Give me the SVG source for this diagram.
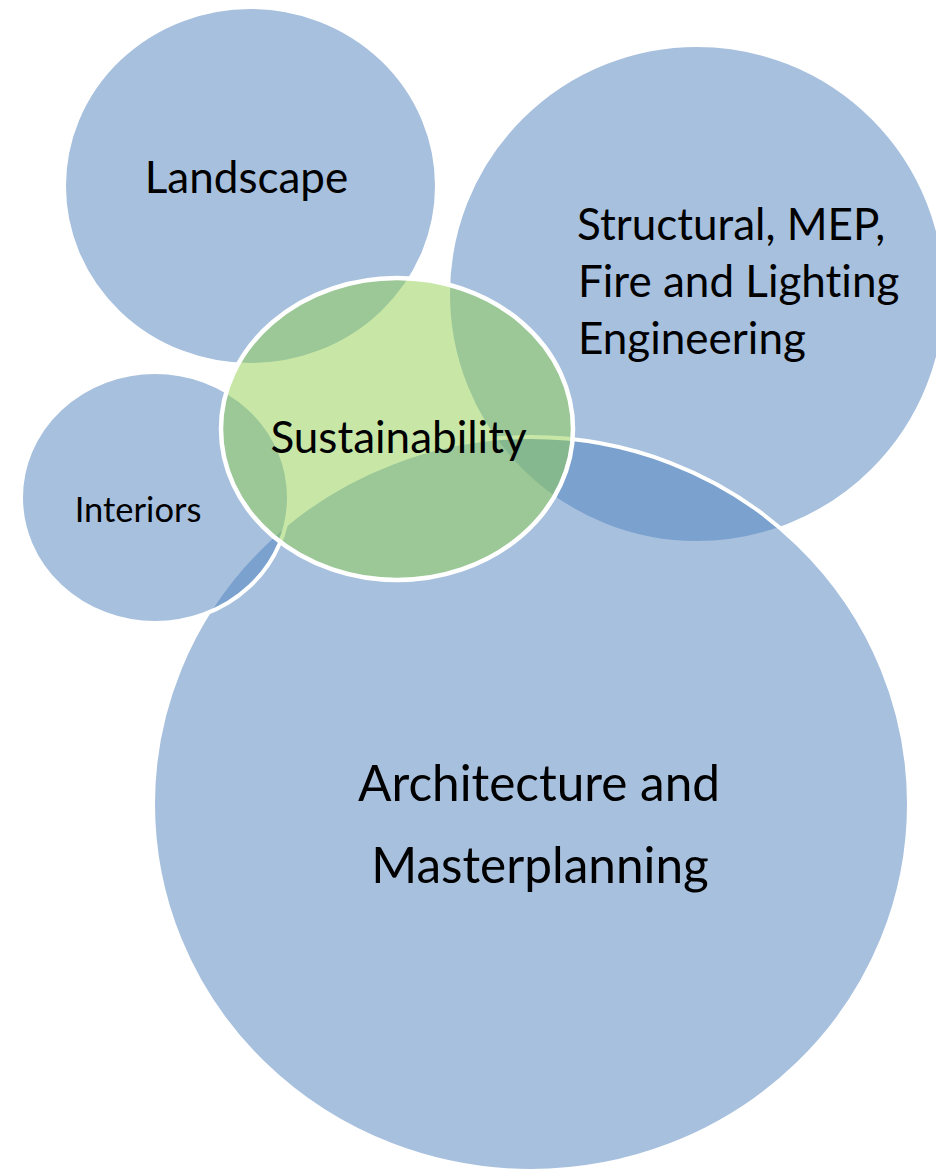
<svg xmlns="http://www.w3.org/2000/svg" width="936" height="1172" viewBox="0 0 936 1172">
  <style>
    .blue { fill: #4F81BD; fill-opacity: 0.5; stroke: #FFFFFF; stroke-width: 4; }
    .green { fill: #92D050; fill-opacity: 0.5; stroke: #FFFFFF; stroke-width: 4.5; }
    .lbl { font-family: Lato, "Open Sans", "Liberation Sans", sans-serif; fill: #000000; font-variant-ligatures: none; font-feature-settings: "liga" 0, "dlig" 0; }
  </style>
  <rect x="0" y="0" width="936" height="1172" fill="#FFFFFF"/>
  <g id="landscape">
    <ellipse class="blue" cx="250.5" cy="186" rx="186.5" ry="179"/>
    <text class="lbl" x="246.5" y="193" font-size="44" text-anchor="middle">Landscape</text>
  </g>
  <g id="structural">
    <ellipse class="blue" cx="697" cy="294" rx="249" ry="249"/>
    <text class="lbl" x="577" y="240" font-size="44">Structural, MEP,</text>
    <text class="lbl" x="578" y="297" font-size="44">Fire and Lighting</text>
    <text class="lbl" x="578" y="354" font-size="44">Engineering</text>
  </g>
  <g id="architecture">
    <ellipse class="blue" cx="531" cy="804" rx="378" ry="367"/>
    <text class="lbl" x="539" y="801" font-size="49.5" text-anchor="middle">Architecture and</text>
    <text class="lbl" x="540" y="883" font-size="49.5" text-anchor="middle">Masterplanning</text>
  </g>
  <g id="interiors">
    <ellipse class="blue" cx="155" cy="497.5" rx="134" ry="125.5"/>
    <text class="lbl" x="138" y="522" font-size="34.5" text-anchor="middle">Interiors</text>
  </g>
  <g id="sustainability">
    <ellipse class="green" cx="397" cy="429" rx="176" ry="151"/>
    <text class="lbl" x="398.5" y="453" font-size="44" text-anchor="middle">Sustainability</text>
  </g>
  <g id="connectors"/>
</svg>
